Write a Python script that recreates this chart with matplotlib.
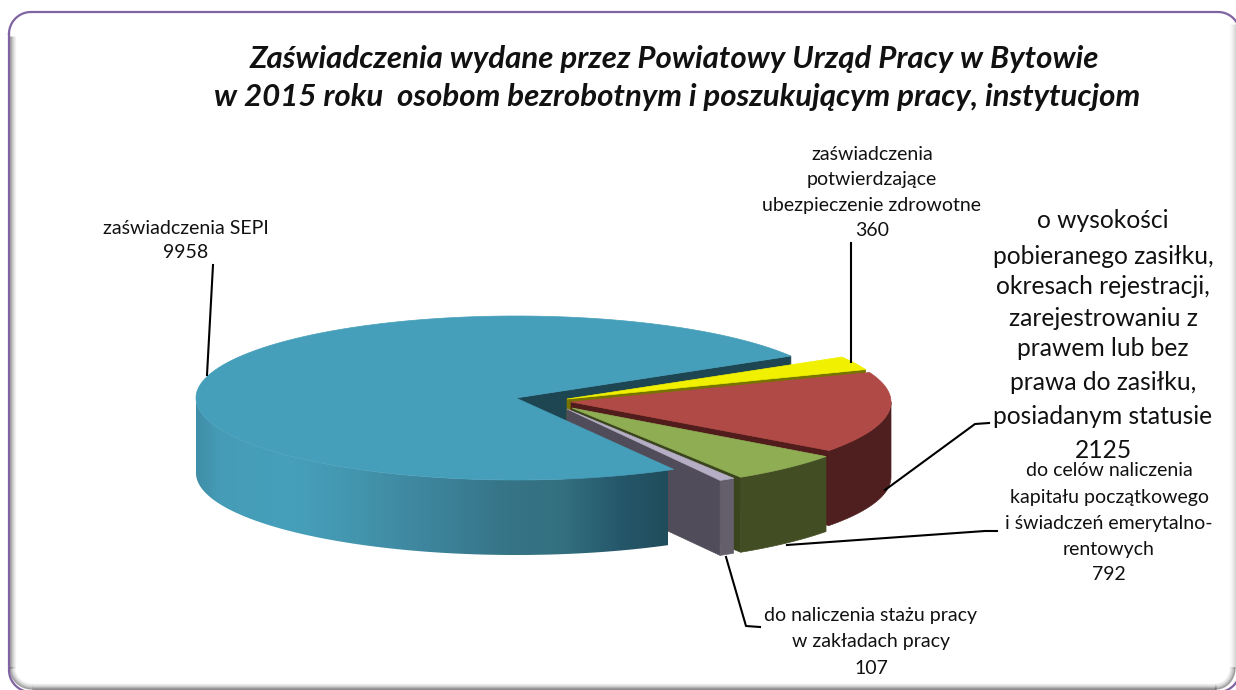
import numpy as np
import matplotlib
matplotlib.use('Agg')
import matplotlib.pyplot as plt
from matplotlib.colors import LinearSegmentedColormap
from matplotlib.patches import Polygon

plt.rcParams['font.family'] = ['Lato', 'DejaVu Sans']

# clockwise from the top of the yellow slice
names = ['yellow', 'red', 'green', 'gray', 'blue']
values = np.array([360, 2125, 792, 107, 9958])

title_lines = ['Zaświadczenia wydane przez Powiatowy Urząd Pracy w Bytowie',
               'w 2015 roku  osobom bezrobotnym i poszukującym pracy, instytucjom']
label_sepi = ['zaświadczenia SEPI', '9958']
label_zdrow = ['zaświadczenia', 'potwierdzające', 'ubezpieczenie zdrowotne', '360']
label_zasilek = ['o wysokości', 'pobieranego zasiłku,', 'okresach rejestracji,',
                 'zarejestrowaniu z', 'prawem lub bez', 'prawa do zasiłku,',
                 'posiadanym statusie', '2125']
label_kapital = ['do celów naliczenia', 'kapitału początkowego',
                 'i świadczeń emerytalno-', 'rentowych', '792']
label_staz = ['do naliczenia stażu pracy', 'w zakładach pracy', '107']

# pie geometry in pixels
START = 30.8
RY, DEPTH = 82, 75
centers = {'blue': (516, 398), 'yellow': (567, 399), 'red': (571, 402),
           'green': (572, 408), 'gray': (567, 409)}
radius = {'blue': 320, 'yellow': 320, 'red': 320, 'green': 315, 'gray': 311}
top_col = {'blue': '#469fba', 'yellow': '#f0f000', 'red': '#b04a47',
           'green': '#8fae54', 'gray': '#b5aec4'}
cut_col = {'blue': '#1d4552', 'yellow': '#777300', 'red': '#511c1c',
           'green': '#3a451d', 'gray': '#514c59'}
rim_col = {'red': '#4f1f1f', 'green': '#434d24', 'gray': '#655f6c'}

edges = START - np.concatenate([[0], np.cumsum(values)]) / values.sum() * 360
theta = {n: (edges[i], edges[i + 1]) for i, n in enumerate(names)}


def rim(name, t1, t2, n=200):
    cx, cy = centers[name]
    t = np.radians(np.linspace(t1, t2, n))
    return np.column_stack([cx + radius[name] * np.cos(t), cy - RY * np.sin(t)])


def draw_top(name):
    a, b = theta[name]
    pts = np.vstack([centers[name], rim(name, a, b)])
    ax.add_patch(Polygon(pts, closed=True, fc=top_col[name], ec=top_col[name], lw=0.5))


def draw_cut(name, t):
    # flat wall from the centre to the rim
    cx, cy = centers[name]
    p = rim(name, t, t, 1)[0]
    pts = [(cx, cy), p, (p[0], p[1] + DEPTH), (cx, cy + DEPTH)]
    ax.add_patch(Polygon(pts, closed=True, fc=cut_col[name], ec=cut_col[name], lw=0.5))


def draw_rim(name, t1, t2):
    pts = rim(name, t1, t2)
    side = np.vstack([pts, pts[::-1] + [0, DEPTH]])
    ax.add_patch(Polygon(side, closed=True, fc=rim_col[name], ec=rim_col[name], lw=0.5))


def label(lines, cx, ys, size):
    for s, y in zip(lines, ys):
        ax.text(cx, y, s, ha='center', va='center', fontsize=size, color='#111111')


def rounded_frame(x0, y0, x1, y1, r):
    out = []
    for cx, cy, a in [(x0 + r, y0 + r, 90), (x1 - r, y0 + r, 0),
                      (x1 - r, y1 - r, -90), (x0 + r, y1 - r, -180)]:
        t = np.radians(np.linspace(a + 90, a, 20))
        out.append(np.column_stack([cx + r * np.cos(t), cy - r * np.sin(t)]))
    out = np.vstack(out)
    return np.vstack([out, out[:1]])


fig = plt.figure(figsize=(12.36, 6.9), dpi=100)
ax = fig.add_axes([0, 0, 1, 1])

# inner shadow of the frame
for i, a in enumerate([.32, .24, .17, .11, .07, .04]):
    ax.plot([10 + i, 10 + i], [36, 668], color='k', alpha=a, lw=1, solid_capstyle='butt')
    ax.plot([32, 1216], [689 - i, 689 - i], color='k', alpha=a * 1.3, lw=1, solid_capstyle='butt')
    ax.plot([1235 - i, 1235 - i], [24, 668], color='k', alpha=a * .4, lw=1, solid_capstyle='butt')
    t = np.radians(np.linspace(180, 270, 30))
    ax.plot(32 + (22 - i) * np.cos(t), 668 - (21 - i) * np.sin(t), color='k', alpha=a, lw=1)
    t = np.radians(np.linspace(270, 360, 30))
    ax.plot(1216 + (19 - i) * np.cos(t), 668 - (21 - i) * np.sin(t), color='k', alpha=a, lw=1)
frame = rounded_frame(9, 12, 1240, 692, 22)
ax.plot(frame[:, 0], frame[:, 1], color='#8064a2', lw=1.6)

# back to front
draw_cut('blue', START)
draw_cut('yellow', theta['yellow'][1])
draw_top('yellow')
draw_rim('red', 0, theta['red'][1])
draw_cut('red', theta['red'][1])
draw_top('red')
draw_cut('green', theta['green'][1])
draw_rim('green', theta['green'][0], theta['green'][1])
draw_top('green')
draw_cut('gray', theta['gray'][1])
draw_rim('gray', theta['gray'][0], theta['gray'][1])
draw_top('gray')

# blue wall has a horizontal gradient
blue_end = theta['blue'][0]
wall = rim('blue', 180, 360 + blue_end)
wall = np.vstack([wall, wall[::-1] + [0, DEPTH]])
grad = LinearSegmentedColormap.from_list('wall', [
    (0.00, '#408ea8'), (0.05, '#459cb6'), (0.20, '#46a0bb'), (0.32, '#4497b0'),
    (0.52, '#3c8299'), (0.66, '#367487'), (0.78, '#33707f'), (0.90, '#25576a'), (1.00, '#204d5b')])
clip = Polygon(wall, closed=True, transform=ax.transData, fc='none', ec='none')
ax.add_patch(clip)
im = ax.imshow(np.linspace(0, 1, 256).reshape(1, -1), cmap=grad, aspect='auto',
               extent=(196, 668, 560, 390), zorder=1.5)
im.set_clip_path(clip)

# blue top sits over the gray wall
a, b = theta['blue']
pts = np.vstack([centers['blue'], rim('blue', a, b, 400)])
ax.add_patch(Polygon(pts, closed=True, fc=top_col['blue'], ec=top_col['blue'], lw=0.5, zorder=1.6))

# leader lines
leaders = [([207, 213], [375, 265]),
           ([851, 851], [362, 243]),
           ([885, 975, 989], [490, 424, 423]),
           ([787, 985, 997], [545, 531, 531]),
           ([726, 746, 760], [557, 626, 627])]
for xs, ys in leaders:
    ax.plot(xs, ys, color='k', lw=1.5, zorder=3)

# text
for s, x, y in zip(title_lines, [674, 677], [59, 97]):
    ax.text(x, y, s, ha='center', va='center', fontsize=22.5, fontweight='bold',
            fontstyle='italic', color='#111111')
label(label_sepi, 186, [228, 253], 14)
label(label_zdrow, 872, [154, 180, 205, 231], 14)
label(label_zasilek, 1103, [220, 256, 286, 318, 349, 382, 416, 450], 17.7)
label(label_kapital, 1109, [471, 497, 523, 549, 575], 14)
label(label_staz, 871, [616, 642, 668], 14)

ax.set_xlim(0, 1236)
ax.set_ylim(690, 0)
ax.axis('off')
fig.savefig('out.png', dpi=100, facecolor='white')
